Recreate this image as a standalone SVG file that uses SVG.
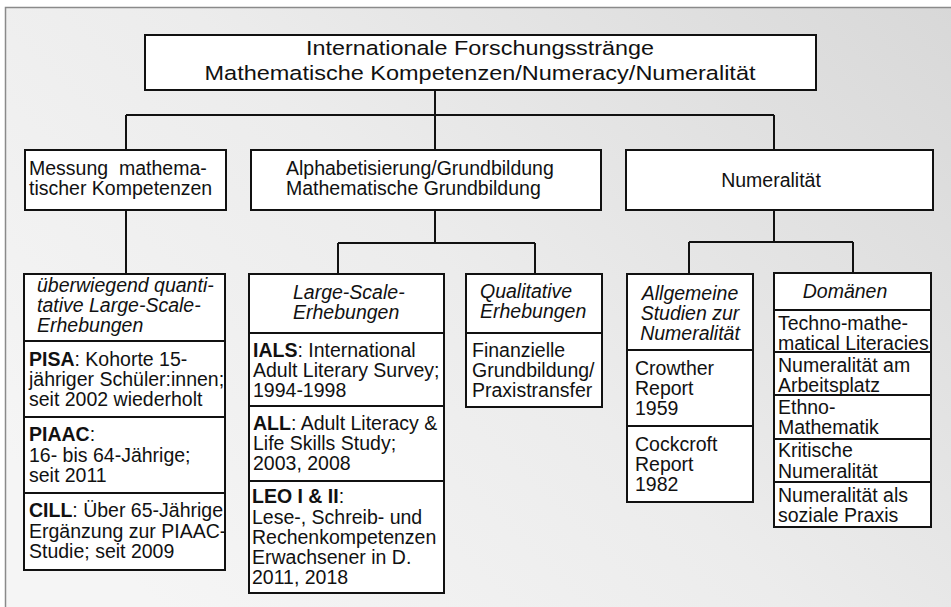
<svg xmlns="http://www.w3.org/2000/svg" width="951" height="607" viewBox="0 0 951 607">
  <defs>
    <linearGradient id="bg" gradientUnits="userSpaceOnUse" x1="951" y1="0" x2="250" y2="700">
      <stop offset="0" stop-color="#d8d8d8"/>
      <stop offset="0.55" stop-color="#ececec"/>
      <stop offset="1" stop-color="#f5f5f5"/>
    </linearGradient>
    <style>
      .box { fill: #ffffff; stroke: #111111; stroke-width: 2; }
      .con { fill: none; stroke: #111111; stroke-width: 2; }
      text { font-family: "Liberation Sans", Arial, sans-serif; font-size: 19.5px; fill: #111111; }
      .title { font-size: 20.5px; }
      .it { font-style: italic; }
      .b { font-weight: bold; }
      .mid { text-anchor: middle; }
    </style>
  </defs>

  <rect x="0" y="0" width="951" height="607" fill="#ffffff"/>
  <rect x="5.5" y="7.5" width="960" height="620" fill="url(#bg)" stroke="#8a8a8a" stroke-width="1.5"/>

  <g id="connectors">
    <path class="con" d="M435,90 V150 M126,115 H774 M126,115 V150 M774,115 V150"/>
    <path class="con" d="M126,210 V274"/>
    <path class="con" d="M435,210 V243 M338,243 H535 M338,243 V274 M535,243 V274"/>
    <path class="con" d="M774,210 V242 M689,242 H853 M689,242 V274 M853,242 V273"/>
  </g>

  <g id="root">
    <rect class="box" x="145" y="35" width="671" height="55"/>
    <text class="title mid" x="480" y="55" textLength="348" lengthAdjust="spacingAndGlyphs">Internationale Forschungsstränge</text>
    <text class="title mid" x="480" y="80" textLength="551" lengthAdjust="spacingAndGlyphs">Mathematische Kompetenzen/Numeracy/Numeralität</text>
  </g>

  <g id="messung">
    <rect class="box" x="25" y="150" width="201" height="60"/>
    <text x="29" y="175" xml:space="preserve">Messung  mathema-</text>
    <text x="29" y="195">tischer Kompetenzen</text>
  </g>

  <g id="alphabetisierung">
    <rect class="box" x="251" y="150" width="350" height="60"/>
    <text x="286" y="175">Alphabetisierung/Grundbildung</text>
    <text x="286" y="195">Mathematische Grundbildung</text>
  </g>

  <g id="numeralitaet">
    <rect class="box" x="626" y="150" width="307" height="60"/>
    <text class="mid" x="771" y="187">Numeralität</text>
  </g>

  <g id="quantitativ">
    <rect class="box" x="24" y="274" width="201" height="67"/>
    <text class="it" x="37" y="292">überwiegend quanti-</text>
    <text class="it" x="37" y="312">tative Large-Scale-</text>
    <text class="it" x="37" y="332">Erhebungen</text>
    <rect class="box" x="24" y="341" width="201" height="76"/>
    <text x="29" y="366"><tspan class="b">PISA</tspan>: Kohorte 15-</text>
    <text x="29" y="386">jähriger Schüler:innen;</text>
    <text x="29" y="406">seit 2002 wiederholt</text>
    <rect class="box" x="24" y="417" width="201" height="76"/>
    <text x="29" y="441"><tspan class="b">PIAAC</tspan>:</text>
    <text x="29" y="461.5">16- bis 64-Jährige;</text>
    <text x="29" y="482">seit 2011</text>
    <rect class="box" x="24" y="493" width="201" height="77"/>
    <text x="29" y="517"><tspan class="b">CILL</tspan>: Über 65-Jährige</text>
    <text x="29" y="538">Ergänzung zur PIAAC-</text>
    <text x="29" y="558">Studie; seit 2009</text>
  </g>

  <g id="large-scale">
    <rect class="box" x="249" y="274" width="195" height="59"/>
    <text class="it" x="293" y="299">Large-Scale-</text>
    <text class="it" x="293" y="319">Erhebungen</text>
    <rect class="box" x="249" y="333" width="195" height="73"/>
    <text x="253" y="357"><tspan class="b">IALS</tspan>: International</text>
    <text x="253" y="377">Adult Literary Survey;</text>
    <text x="253" y="397">1994-1998</text>
    <rect class="box" x="249" y="406" width="195" height="75"/>
    <text x="253" y="430"><tspan class="b">ALL</tspan>: Adult Literacy &amp;</text>
    <text x="253" y="450">Life Skills Study;</text>
    <text x="253" y="470">2003, 2008</text>
    <rect class="box" x="249" y="481" width="195" height="112"/>
    <text x="252" y="503"><tspan class="b">LEO I &amp; II</tspan>:</text>
    <text x="252" y="524">Lese-, Schreib- und</text>
    <text x="252" y="544">Rechenkompetenzen</text>
    <text x="252" y="564">Erwachsener in D.</text>
    <text x="252" y="584">2011, 2018</text>
  </g>

  <g id="qualitativ">
    <rect class="box" x="466" y="274" width="136" height="59"/>
    <text class="it" x="480" y="298">Qualitative</text>
    <text class="it" x="480" y="318">Erhebungen</text>
    <rect class="box" x="466" y="333" width="136" height="74"/>
    <text x="472" y="357">Finanzielle</text>
    <text x="472" y="377">Grundbildung/</text>
    <text x="472" y="397">Praxistransfer</text>
  </g>

  <g id="allgemeine">
    <rect class="box" x="627" y="274" width="126" height="76"/>
    <text class="it mid" x="690" y="300">Allgemeine</text>
    <text class="it mid" x="690" y="320">Studien zur</text>
    <text class="it mid" x="690" y="340">Numeralität</text>
    <rect class="box" x="627" y="350" width="126" height="76"/>
    <text x="635" y="375">Crowther</text>
    <text x="635" y="395">Report</text>
    <text x="635" y="415">1959</text>
    <rect class="box" x="627" y="426" width="126" height="76"/>
    <text x="635" y="451">Cockcroft</text>
    <text x="635" y="471">Report</text>
    <text x="635" y="491">1982</text>
  </g>

  <g id="domaenen">
    <rect class="box" x="774" y="273" width="157" height="37"/>
    <text class="it mid" x="845" y="298">Domänen</text>
    <rect class="box" x="774" y="310" width="157" height="42"/>
    <text x="778" y="330">Techno-mathe-</text>
    <text x="778" y="350">matical Literacies</text>
    <rect class="box" x="774" y="352" width="157" height="43"/>
    <text x="778" y="372">Numeralität am</text>
    <text x="778" y="392">Arbeitsplatz</text>
    <rect class="box" x="774" y="395" width="157" height="44"/>
    <text x="778" y="414">Ethno-</text>
    <text x="778" y="434">Mathematik</text>
    <rect class="box" x="774" y="439" width="157" height="43"/>
    <text x="778" y="457">Kritische</text>
    <text x="778" y="478">Numeralität</text>
    <rect class="box" x="774" y="482" width="157" height="45"/>
    <text x="778" y="502">Numeralität als</text>
    <text x="778" y="522">soziale Praxis</text>
  </g>
</svg>
